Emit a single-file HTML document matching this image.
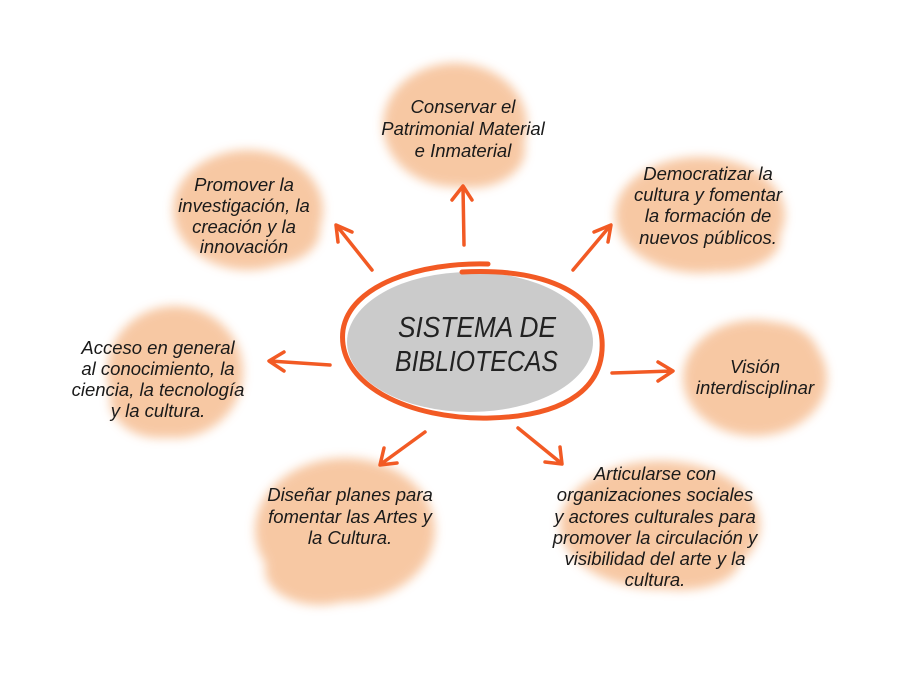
<!DOCTYPE html>
<html><head><meta charset="utf-8"><style>
html,body{margin:0;padding:0;background:#fff}
svg{display:block}
.t{font-family:"Liberation Sans",sans-serif;font-style:italic;font-size:18.5px;fill:#1a1a1a;text-anchor:middle}
.a{stroke:#f25a24;stroke-width:3.5;fill:none;stroke-linecap:round;stroke-linejoin:round}
</style></head><body>
<svg width="922" height="691" viewBox="0 0 922 691" xmlns="http://www.w3.org/2000/svg">
<defs><filter id="b" x="-20%" y="-20%" width="140%" height="140%"><feGaussianBlur stdDeviation="5"/></filter></defs>
<g fill="#f6bf94" opacity="0.85" filter="url(#b)">
<ellipse cx="455" cy="125" rx="72" ry="62"/><ellipse cx="470" cy="150" rx="55" ry="38"/>
<ellipse cx="248" cy="210" rx="75" ry="60"/><ellipse cx="270" cy="230" rx="50" ry="35"/>
<ellipse cx="700" cy="215" rx="85" ry="58"/><ellipse cx="720" cy="240" rx="60" ry="32"/>
<ellipse cx="175" cy="372" rx="68" ry="66"/><ellipse cx="160" cy="400" rx="50" ry="38"/>
<ellipse cx="755" cy="378" rx="72" ry="58"/><ellipse cx="770" cy="360" rx="50" ry="38"/>
<ellipse cx="345" cy="530" rx="90" ry="72"/><ellipse cx="320" cy="570" rx="55" ry="35"/>
<ellipse cx="660" cy="525" rx="100" ry="64"/><ellipse cx="680" cy="560" rx="60" ry="30"/>
</g>
<ellipse cx="470" cy="342" rx="123" ry="70" fill="#cbcbcb"/>
<path class="a" style="stroke-width:5" d="M488 264 C420 262 350 285 343 330 C336 385 410 420 490 418 C570 416 605 385 602 340 C598 290 540 268 462 272"/>
<text x="398" y="337" textLength="158" lengthAdjust="spacingAndGlyphs" font-family="Liberation Sans,sans-serif" font-style="italic" font-size="29" fill="#222">SISTEMA DE</text>
<text x="395" y="371" textLength="163" lengthAdjust="spacingAndGlyphs" font-family="Liberation Sans,sans-serif" font-style="italic" font-size="29" fill="#222">BIBLIOTECAS</text>
<path class="a" d="M464 245 L463 187 M452 200 L463 186 L472 200"/>
<path class="a" d="M372 270 L337 226 M338 242 L336 225 L352 232"/>
<path class="a" d="M573 270 L610 226 M594 232 L611 225 L608 242"/>
<path class="a" d="M330 365 L270 361 M284 352 L269 361 L284 371"/>
<path class="a" d="M612 373 L672 371 M658 362 L673 371 L658 381"/>
<path class="a" d="M425 432 L381 464 M384 448 L380 465 L397 463"/>
<path class="a" d="M518 428 L561 463 M545 462 L562 464 L560 447"/>
<g class="t">
<text x="463" y="113">Conservar el</text><text x="463" y="135">Patrimonial Material</text><text x="463" y="157">e Inmaterial</text>
<text x="244" y="191">Promover la</text><text x="244" y="212">investigación, la</text><text x="244" y="233">creación y la</text><text x="244" y="253">innovación</text>
<text x="708" y="180">Democratizar la</text><text x="708" y="201">cultura y fomentar</text><text x="708" y="222">la formación de</text><text x="708" y="244">nuevos públicos.</text>
<text x="158" y="354">Acceso en general</text><text x="158" y="375">al conocimiento, la</text><text x="158" y="396">ciencia, la tecnología</text><text x="158" y="417">y la cultura.</text>
<text x="755" y="373">Visión</text><text x="755" y="394">interdisciplinar</text>
<text x="350" y="501">Diseñar planes para</text><text x="350" y="523">fomentar las Artes y</text><text x="350" y="544">la Cultura.</text>
<text x="655" y="480">Articularse con</text><text x="655" y="501">organizaciones sociales</text><text x="655" y="523">y actores culturales para</text><text x="655" y="544">promover la circulación y</text><text x="655" y="565">visibilidad del arte y la</text><text x="655" y="586">cultura.</text>
</g>
</svg>
</body></html>
